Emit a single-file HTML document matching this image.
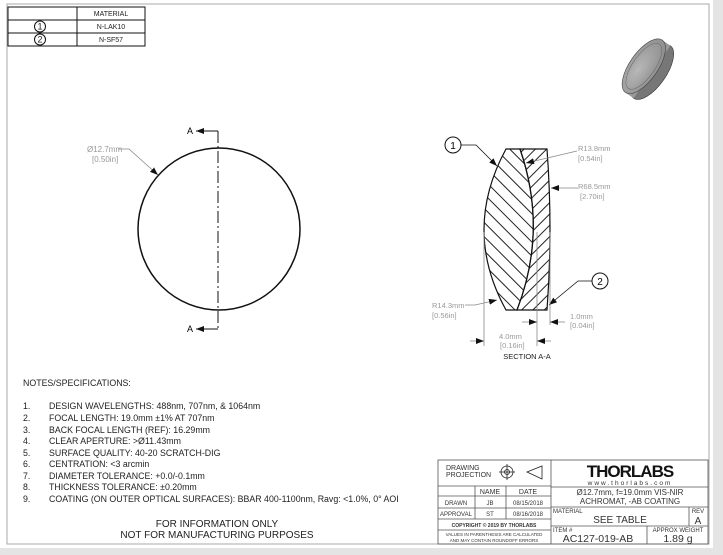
<!DOCTYPE html>
<html><head><meta charset="utf-8"><style>
body{margin:0;width:723px;height:555px;background:#e4e4e4;overflow:hidden;font-family:"Liberation Sans",sans-serif}
svg{position:absolute;left:0;top:0}
text{font-family:"Liberation Sans",sans-serif}
</style></head><body>
<svg width="723" height="555" viewBox="0 0 723 555">
<defs>
<pattern id="h1" width="10" height="10" patternUnits="userSpaceOnUse" patternTransform="rotate(-45)"><line x1="5" y1="0" x2="5" y2="10" stroke="#222" stroke-width="1"/></pattern>
<pattern id="h2" width="8" height="8" patternUnits="userSpaceOnUse" patternTransform="rotate(45)"><line x1="4" y1="0" x2="4" y2="8" stroke="#222" stroke-width="1"/></pattern>
<marker id="ar" markerWidth="8" markerHeight="6" refX="8" refY="3" orient="auto" markerUnits="userSpaceOnUse"><path d="M0,0 L8,3 L0,6z" fill="#111"/></marker>
<radialGradient id="lg" cx="0.4" cy="0.4" r="0.7"><stop offset="0" stop-color="#b8b8b8"/><stop offset="1" stop-color="#8a8a8a"/></radialGradient>
</defs>
<rect x="0" y="0" width="713" height="548" fill="#fff"/>
<rect x="7" y="4" width="702" height="540" fill="none" stroke="#aaa" stroke-width="1"/>
<g stroke="#111" stroke-width="1" fill="none">
<rect x="8" y="7" width="137" height="39"/>
<line x1="8" y1="20" x2="145" y2="20"/><line x1="8" y1="33" x2="145" y2="33"/>
<line x1="77" y1="7" x2="77" y2="46"/>
<circle cx="40" cy="26.5" r="5.5"/><circle cx="40" cy="39.5" r="5.5"/>
</g>
<g font-size="7" fill="#222" text-anchor="middle">
<text x="111" y="16">MATERIAL</text><text x="111" y="29">N-LAK10</text><text x="111" y="42">N-SF57</text>
<text x="40" y="29.5" font-size="9">1</text><text x="40" y="42.5" font-size="9">2</text>
</g>
<g transform="translate(652,72) rotate(-55)">
<ellipse cx="0" cy="0" rx="32" ry="14" fill="#777" stroke="#333" stroke-width="0.6"/>
<rect x="-32" y="-10" width="64" height="10" fill="#999"/>
<ellipse cx="0" cy="-10" rx="32" ry="14" fill="url(#lg)" stroke="#444" stroke-width="0.6"/>
<ellipse cx="0" cy="-10" rx="27" ry="11" fill="none" stroke="#666" stroke-width="0.5"/>
</g>
<circle cx="219" cy="229" r="81" fill="none" stroke="#111" stroke-width="1.5"/>
<line x1="218" y1="131" x2="218" y2="329" stroke="#111" stroke-width="1" stroke-dasharray="12,3,2,3"/>
<line x1="218" y1="131" x2="196" y2="131" stroke="#111" marker-end="url(#ar)"/>
<line x1="218" y1="329" x2="196" y2="329" stroke="#111" marker-end="url(#ar)"/>
<text x="187" y="134" font-size="9">A</text><text x="187" y="332" font-size="9">A</text>
<polyline points="118,149 129,149 158,175" fill="none" stroke="#888" stroke-width="0.8" marker-end="url(#ar)"/>
<text x="87" y="152" font-size="8" fill="#999">Ø12.7mm</text><text x="92" y="162" font-size="8" fill="#999">[0.50in]</text>
<path d="M506,149 L520,149 Q548,230 517,310 L506,310 Q462,230 506,149Z" fill="url(#h1)" stroke="#111" stroke-width="1.2"/>
<path d="M520,149 L547,149 Q553,230 547,310 L517,310 Q548,230 520,149Z" fill="url(#h2)" stroke="#111" stroke-width="1.2"/>
<circle cx="453" cy="145" r="8" fill="#fff" stroke="#111"/><text x="453" y="149" font-size="10" text-anchor="middle">1</text>
<polyline points="461,145 476,145 497,166" fill="none" stroke="#111" stroke-width="0.8" marker-end="url(#ar)"/>
<circle cx="600" cy="281" r="8" fill="#fff" stroke="#111"/><text x="600" y="285" font-size="10" text-anchor="middle">2</text>
<polyline points="592,281 578,281 549,305" fill="none" stroke="#111" stroke-width="0.8" marker-end="url(#ar)"/>
<g font-size="7.5" fill="#999">
<text x="578" y="151">R13.8mm</text><text x="578" y="161">[0.54in]</text>
<text x="578" y="189">R68.5mm</text><text x="580" y="199">[2.70in]</text>
<text x="432" y="308">R14.3mm</text><text x="432" y="318">[0.56in]</text>
<text x="499" y="339">4.0mm</text><text x="500" y="348">[0.16in]</text>
<text x="570" y="319">1.0mm</text><text x="570" y="328">[0.04in]</text>
</g>
<g stroke="#888" stroke-width="0.8" fill="none">
<line x1="577" y1="151" x2="526" y2="163" marker-end="url(#ar)"/>
<line x1="578" y1="188" x2="551" y2="188" marker-end="url(#ar)"/>
<polyline points="465,305 475,305 497,300" marker-end="url(#ar)"/>
<line x1="484" y1="232" x2="484" y2="346"/><line x1="537" y1="232" x2="537" y2="346"/><line x1="550" y1="232" x2="550" y2="325"/>
<line x1="470" y1="341" x2="484" y2="341" marker-end="url(#ar)"/><line x1="551" y1="341" x2="537" y2="341" marker-end="url(#ar)"/>
<line x1="522" y1="322" x2="537" y2="322" marker-end="url(#ar)"/><line x1="565" y1="322" x2="550" y2="322" marker-end="url(#ar)"/>
</g>
<text x="527" y="359" font-size="7.5" text-anchor="middle" fill="#222">SECTION A-A</text>
<g font-size="8.8" fill="#222">
<text x="23" y="386">NOTES/SPECIFICATIONS:</text>
<text x="23" y="409">1.</text><text x="49" y="409">DESIGN WAVELENGTHS: 488nm, 707nm, &amp; 1064nm</text>
<text x="23" y="421">2.</text><text x="49" y="421">FOCAL LENGTH: 19.0mm ±1% AT 707nm</text>
<text x="23" y="433">3.</text><text x="49" y="433">BACK FOCAL LENGTH (REF): 16.29mm</text>
<text x="23" y="444">4.</text><text x="49" y="444">CLEAR APERTURE: &gt;Ø11.43mm</text>
<text x="23" y="456">5.</text><text x="49" y="456">SURFACE QUALITY: 40-20 SCRATCH-DIG</text>
<text x="23" y="467">6.</text><text x="49" y="467">CENTRATION: &lt;3 arcmin</text>
<text x="23" y="479">7.</text><text x="49" y="479">DIAMETER TOLERANCE: +0.0/-0.1mm</text>
<text x="23" y="490">8.</text><text x="49" y="490">THICKNESS TOLERANCE: ±0.20mm</text>
<text x="23" y="502">9.</text><text x="49" y="502">COATING (ON OUTER OPTICAL SURFACES): BBAR 400-1100nm, Ravg: &lt;1.0%, 0° AOI</text>
<text x="217" y="527" font-size="10" text-anchor="middle">FOR INFORMATION ONLY</text>
<text x="217" y="538" font-size="10" text-anchor="middle">NOT FOR MANUFACTURING PURPOSES</text>
</g>
<g stroke="#555" stroke-width="0.8" fill="none">
<rect x="438" y="460" width="270" height="84"/>
<line x1="551" y1="460" x2="551" y2="544"/>
<line x1="438" y1="486" x2="551" y2="486"/><line x1="438" y1="496" x2="551" y2="496"/>
<line x1="438" y1="508" x2="551" y2="508"/><line x1="438" y1="519" x2="551" y2="519"/><line x1="438" y1="530" x2="551" y2="530"/>
<line x1="475" y1="486" x2="475" y2="519"/><line x1="506" y1="486" x2="506" y2="519"/>
<line x1="551" y1="487" x2="708" y2="487"/><line x1="551" y1="507" x2="708" y2="507"/><line x1="551" y1="526" x2="708" y2="526"/>
<line x1="689" y1="507" x2="689" y2="526"/><line x1="647" y1="526" x2="647" y2="544"/>
<circle cx="507" cy="472" r="6" stroke="#222"/><circle cx="507" cy="472" r="2.5" stroke="#222"/>
<line x1="499" y1="472" x2="515" y2="472" stroke="#222"/><line x1="507" y1="464" x2="507" y2="480" stroke="#222"/>
<polygon points="527,472 542,466 542,479" stroke="#222"/>
</g>
<g fill="#333" font-size="7">
<text x="446" y="470">DRAWING</text><text x="446" y="477">PROJECTION</text>
<text x="490" y="494" text-anchor="middle">NAME</text><text x="528" y="494" text-anchor="middle">DATE</text>
<text x="456" y="505" text-anchor="middle" font-size="6">DRAWN</text><text x="490" y="505" text-anchor="middle" font-size="6">JB</text><text x="528" y="505" text-anchor="middle" font-size="6">08/15/2018</text>
<text x="456" y="516" text-anchor="middle" font-size="6">APPROVAL</text><text x="490" y="516" text-anchor="middle" font-size="6">ST</text><text x="528" y="516" text-anchor="middle" font-size="6">08/16/2018</text>
<text x="494" y="527" text-anchor="middle" font-size="5" font-weight="bold">COPYRIGHT © 2019 BY THORLABS</text>
<text x="494" y="536" text-anchor="middle" font-size="4.5">VALUES IN PARENTHESIS ARE CALCULATED</text>
<text x="494" y="542" text-anchor="middle" font-size="4.5">AND MAY CONTAIN ROUNDOFF ERRORS</text>
<text x="630" y="477" text-anchor="middle" font-size="17" font-weight="bold" fill="#111" letter-spacing="-1">THORLABS</text>
<text x="630" y="485" text-anchor="middle" font-size="6.5" letter-spacing="2">www.thorlabs.com</text>
<text x="630" y="495" text-anchor="middle" font-size="8">Ø12.7mm, f=19.0mm VIS-NIR</text>
<text x="630" y="504" text-anchor="middle" font-size="8">ACHROMAT, -AB COATING</text>
<text x="553" y="513" font-size="6">MATERIAL</text>
<text x="620" y="523" text-anchor="middle" font-size="10">SEE TABLE</text>
<text x="698" y="513" text-anchor="middle" font-size="6">REV</text><text x="698" y="524" text-anchor="middle" font-size="10">A</text>
<text x="553" y="532" font-size="6">ITEM #</text>
<text x="598" y="542" text-anchor="middle" font-size="10.5">AC127-019-AB</text>
<text x="678" y="532" text-anchor="middle" font-size="6">APPROX WEIGHT</text>
<text x="678" y="542" text-anchor="middle" font-size="10.5">1.89 g</text>
</g>
</svg>
</body></html>
